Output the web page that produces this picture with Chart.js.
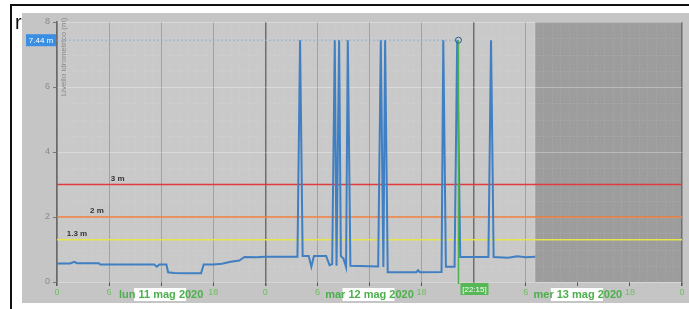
<!DOCTYPE html>
<html>
<head>
<meta charset="utf-8">
<script src="https://cdn.jsdelivr.net/npm/chart.js@4/dist/chart.umd.min.js"></script>
<style>
    html, body { margin: 0; padding: 0; background: #fff; }
    #wrap { position: absolute; left: 0; top: 0; width: 689px; height: 309px; }
</style>
</head>
<body>
<div id="wrap"><canvas id="chart" width="689" height="309"></canvas></div>
<script>
// hours counted from lun 11 mag 2020 00:00
const hours = [0, 1.5, 2.0, 2.3, 4.8, 5.0, 11.2, 11.5, 11.8, 12.6, 12.8, 13.5, 15, 16.6, 16.9, 18, 19, 20, 21, 21.6, 23, 24,
    27.7, 28.0, 28.3, 29.0, 29.3, 29.6, 31.0, 31.4, 31.7, 32.0, 32.2, 32.5, 32.7, 33.0, 33.3, 33.5, 33.8, 37.0, 37.3, 37.6,
    37.8, 38.1, 41.4, 41.6, 41.8, 44.3, 44.5, 44.8, 45.8, 46.1, 46.45, 49.7, 50.0, 50.3, 52, 53, 54, 55.1];
const level = [0.57, 0.57, 0.62, 0.58, 0.58, 0.54, 0.54, 0.47, 0.54, 0.54, 0.3, 0.28, 0.27, 0.27, 0.54, 0.54, 0.56, 0.62, 0.66, 0.77, 0.76, 0.78,
    0.78, 7.44, 0.8, 0.8, 0.47, 0.8, 0.8, 0.52, 0.55, 7.44, 0.5, 7.44, 0.8, 0.72, 0.46, 7.44, 0.5, 0.48, 7.44, 0.46,
    7.44, 0.3, 0.3, 0.36, 0.3, 0.31, 7.44, 0.47, 0.47, 7.44, 0.77, 0.77, 7.44, 0.77, 0.75, 0.79, 0.76, 0.78];

const thresholds = [3, 2, 1.3];
const thresholdLabels = ["3 m", "2 m", "1.3 m"];
const thresholdLabelHour = [7, 4.6, 2.3];
const thresholdColors = ["#e03a3a", "#ee7d3a", "#e6e64a"];

const dayLabels = ["lun 11 mag 2020", "mar 12 mag 2020", "mer 13 mag 2020"];
const cursorHour = 46.25;
const cursorLabel = "[22:15]";
const cursorValue = 7.44;
const nowHour = 55.1;
const yTitle = "Livello idrometrico (m)";

const points = hours.map((h, i) => ({ x: h, y: level[i] }));

const decor = {
    id: "decor",
    beforeDraw(chart) {
        const c = chart.ctx;
        const a = chart.chartArea;
        const xs = chart.scales.x;
        const ys = chart.scales.y;
        c.save();
        c.fillStyle = "#fff";
        c.fillRect(0, 0, 689, 309);
        c.fillStyle = "#c5c5c5";
        c.fillRect(22, 13, 667, 290);
        c.fillStyle = "#111";
        c.fillRect(10, 4, 679, 2);
        c.fillRect(10, 4, 2, 305);
        c.font = "20px 'Liberation Sans', Arial";
        c.fillText("r", 15, 29);

        c.fillStyle = "#c9c9c9";
        c.fillRect(a.left, a.top, a.right - a.left, a.bottom - a.top);
        const nx = xs.getPixelForValue(nowHour);
        c.fillStyle = "#9d9d9d";
        c.fillRect(nx, a.top, a.right - nx, a.bottom - a.top);

        // minor dotted grid
        c.strokeStyle = "rgba(255,255,255,0.14)";
        c.lineWidth = 1;
        c.setLineDash([1, 2]);
        for (let h = 1; h < 72; h++) {
            if (h % 6 === 0) continue;
            const x = Math.round(xs.getPixelForValue(h)) + 0.5;
            c.beginPath();
            c.moveTo(x, a.top);
            c.lineTo(x, a.bottom);
            c.stroke();
        }
        for (let v = 0.5; v < 8; v += 0.5) {
            if (v % 2 === 0) continue;
            const y = Math.round(ys.getPixelForValue(v)) + 0.5;
            c.beginPath();
            c.moveTo(a.left, y);
            c.lineTo(a.right, y);
            c.stroke();
        }
        c.restore();
    },
    beforeDatasetsDraw(chart) {
        const c = chart.ctx;
        const a = chart.chartArea;
        const xs = chart.scales.x;
        const ys = chart.scales.y;
        c.save();
        thresholds.forEach((t, i) => {
            const y = ys.getPixelForValue(t);
            c.strokeStyle = thresholdColors[i];
            c.lineWidth = 1.5;
            c.beginPath();
            c.moveTo(a.left, y);
            c.lineTo(a.right, y);
            c.stroke();
            c.fillStyle = "#333";
            c.font = "bold 8px 'Liberation Sans', Arial";
            c.textAlign = "center";
            c.textBaseline = "bottom";
            c.fillText(thresholdLabels[i], xs.getPixelForValue(thresholdLabelHour[i]), y - 2);
        });

        // cursor value line
        const cy = ys.getPixelForValue(cursorValue);
        const cx = xs.getPixelForValue(cursorHour);
        c.strokeStyle = "#8fb2dc";
        c.lineWidth = 1;
        c.setLineDash([2, 2]);
        c.beginPath();
        c.moveTo(a.left, cy);
        c.lineTo(cx, cy);
        c.stroke();
        c.setLineDash([]);

        // y title inside the plot
        c.fillStyle = "#8a8a8a";
        c.font = "8px 'Liberation Sans', Arial";
        c.translate(a.left + 7, a.top + 35);
        c.rotate(-Math.PI / 2);
        c.textAlign = "center";
        c.textBaseline = "middle";
        c.fillText(yTitle, 0, 0);
        c.restore();
    },
    afterDatasetsDraw(chart) {
        const c = chart.ctx;
        const a = chart.chartArea;
        const xs = chart.scales.x;
        const ys = chart.scales.y;
        const cy = ys.getPixelForValue(cursorValue);
        const cx = xs.getPixelForValue(cursorHour);
        c.save();
        c.strokeStyle = "#4fb04f";
        c.lineWidth = 1.5;
        c.beginPath();
        c.moveTo(cx, cy);
        c.lineTo(cx, a.bottom + 2);
        c.stroke();
        c.strokeStyle = "#2d5f99";
        c.lineWidth = 1;
        c.beginPath();
        c.arc(cx, cy, 3, 0, Math.PI * 2);
        c.stroke();

        // value label on the y axis
        c.fillStyle = "#3a8fe4";
        c.fillRect(26, cy - 6, 30, 12);
        c.fillStyle = "#fff";
        c.font = "8px 'Liberation Sans', Arial";
        c.textAlign = "center";
        c.textBaseline = "middle";
        c.fillText(cursorValue.toFixed(2) + " m", 41, cy + 0.5);

        // cursor time label
        c.fillStyle = "#55b755";
        c.fillRect(cx + 2, a.bottom + 1, 28, 12);
        c.fillStyle = "#fff";
        c.fillText(cursorLabel, cx + 16, a.bottom + 7.5);

        // day labels
        c.font = "bold 11px 'Liberation Sans', Arial";
        dayLabels.forEach((d, i) => {
            const x = xs.getPixelForValue(i * 24 + 12);
            c.fillStyle = "#fff";
            c.fillRect(x - 27, a.bottom + 6, 52, 13);
            c.fillStyle = "#4cb04c";
            c.fillText(d, x, a.bottom + 12.5);
        });
        c.restore();
    }
};

const ctx = document.getElementById("chart").getContext("2d");
const chart = new Chart(ctx, {
    type: "line",
    data: {
        datasets: [{
            data: points,
            borderColor: "#3f7fc2",
            borderWidth: 2,
            pointRadius: 0,
            tension: 0,
            fill: false
        }]
    },
    options: {
        responsive: false,
        animation: false,
        devicePixelRatio: 1,
        layout: { padding: { left: 0, right: 7, top: 22, bottom: 0 } },
        plugins: { legend: { display: false }, tooltip: { enabled: false } },
        scales: {
            x: {
                type: "linear",
                min: 0,
                max: 72,
                afterFit: s => { s.height = 27; },
                ticks: {
                    stepSize: 6,
                    autoSkip: false,
                    maxRotation: 0,
                    color: "#6cc05e",
                    font: { size: 9, family: "'Liberation Sans', Arial" },
                    padding: 1,
                    callback: v => (v % 24 === 12 ? "" : String(v % 24))
                },
                grid: {
                    color: c => (c.tick && c.tick.value % 24 === 0 ? "#6e6e6e" : "#a2a2a2"),
                    lineWidth: c => (c.tick && c.tick.value % 24 === 0 ? 1.5 : 1),
                    tickColor: "#555",
                    tickLength: 4
                },
                border: { display: false }
            },
            y: {
                min: 0,
                max: 8,
                afterFit: s => { s.width = 57; },
                ticks: {
                    stepSize: 2,
                    color: "#8a8a8a",
                    font: { size: 9, family: "'Liberation Sans', Arial" },
                    padding: 3
                },
                grid: {
                    color: "rgba(255,255,255,0.3)",
                    tickColor: "#777",
                    tickLength: 4
                },
                border: { display: true, color: "#6a6a6a", width: 1.5 }
            }
        }
    },
    plugins: [decor]
});
</script>
</body>
</html>
